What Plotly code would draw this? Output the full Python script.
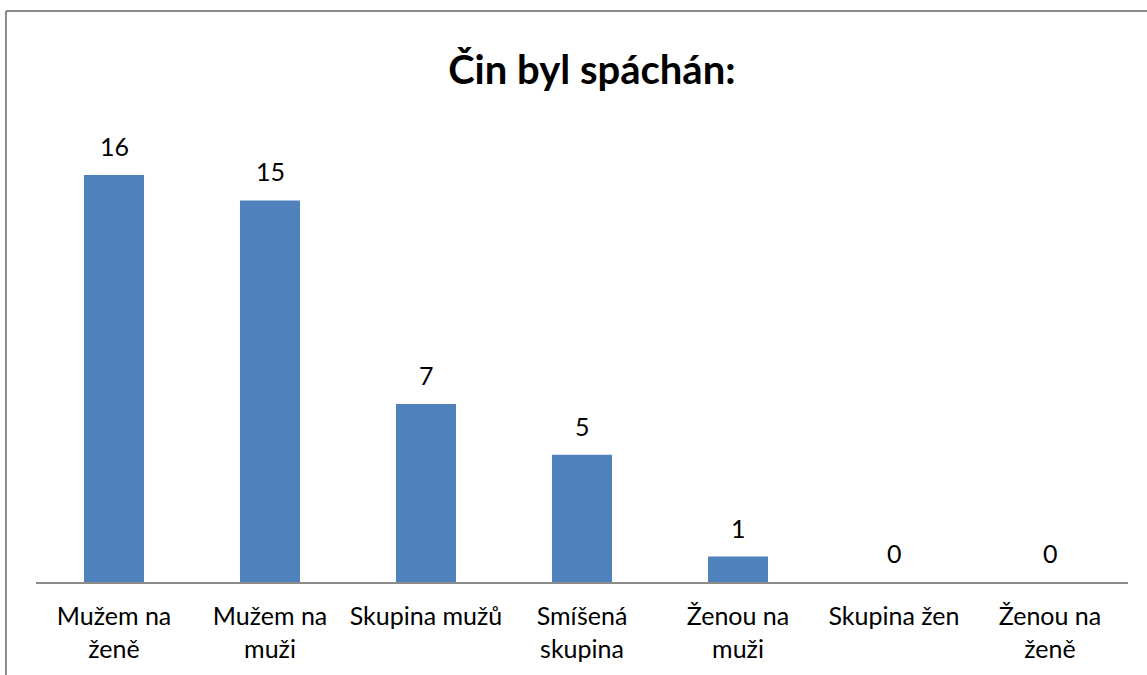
import plotly.graph_objects as go

categories = ["Mužem na<br>ženě", "Mužem na<br>muži", "Skupina mužů", "Smíšená<br>skupina",
              "Ženou na<br>muži", "Skupina žen", "Ženou na<br>ženě"]
values = [16, 15, 7, 5, 1, 0, 0]
title_text = "Čin byl spáchán:"

FONT = "Lato, Open Sans, sans-serif"

fig = go.Figure()
fig.add_trace(go.Bar(
    x=categories, y=values,
    marker=dict(color="#4F81BD", line=dict(width=0)),
    width=0.385,
    hoverinfo="skip",
))

for c, v in zip(categories, values):
    fig.add_annotation(x=c, y=v, text=str(v), showarrow=False, yanchor="bottom",
                       yshift=12, font=dict(family=FONT, size=25, color="#000"))

# outer chart-area border (top and left edges visible in the reference)
fig.add_shape(type="line", xref="paper", yref="paper", x0=-0.0275, x1=1.05, y0=1.1846, y1=1.1846,
              line=dict(color="#8c8c8c", width=2), layer="below")
fig.add_shape(type="line", xref="paper", yref="paper", x0=-0.0275, x1=-0.0275, y0=-0.3, y1=1.1846,
              line=dict(color="#8c8c8c", width=2), layer="below")

fig.update_layout(
    width=1147, height=675,
    margin=dict(l=36, r=19, t=100, b=93),
    paper_bgcolor="white", plot_bgcolor="white",
    title=dict(text="<b>" + title_text + "</b>", x=0.516, xanchor="center", y=0.897, yanchor="middle",
               font=dict(family=FONT, size=40, color="#000")),
    showlegend=False,
    xaxis=dict(showline=True, linecolor="#8c8c8c", linewidth=2, ticks="", showgrid=False,
               tickfont=dict(family=FONT, size=25, color="#000"), ticklabelstandoff=11),
    yaxis=dict(range=[0, 18.95], visible=False, showgrid=False, zeroline=False),
)

fig.write_html("out.html", config={"displayModeBar": False},
               post_script="document.body.style.margin='0';document.body.style.overflow='hidden';")
